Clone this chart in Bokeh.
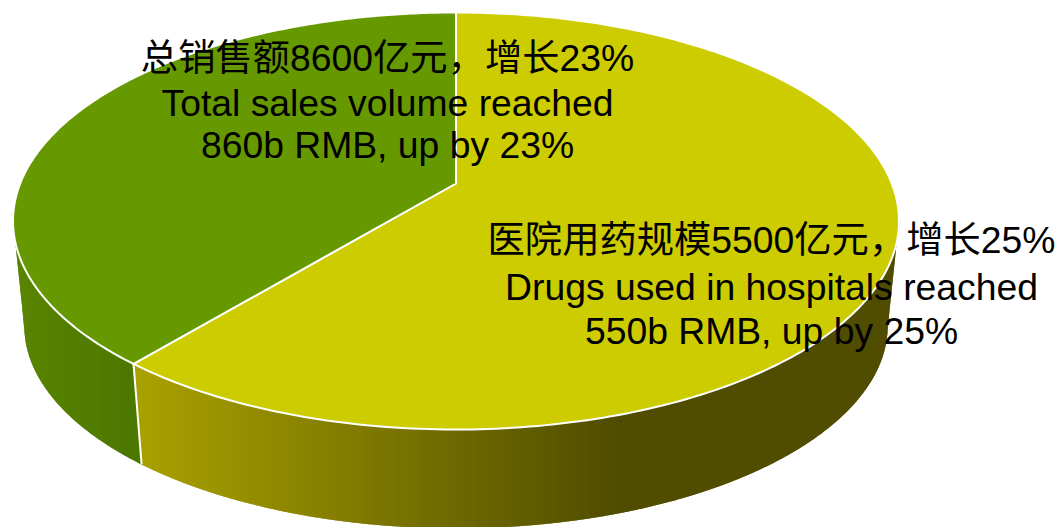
import math
from bokeh.plotting import figure
from bokeh.core.properties import value
from bokeh.embed import file_html
from bokeh.resources import INLINE

# slice shares, clockwise from 12 o'clock
categories = ["医院用药", "其他"]
shares = [61.0, 39.0]

labels_total = ["总销售额8600亿元，增长23%", "Total sales volume reached", "860b RMB, up by 23%"]
labels_hosp = ["医院用药规模5500亿元，增长25%", "Drugs used in hospitals reached", "550b RMB, up by 25%"]

W, H = 1060, 527
p = figure(width=W, height=H, x_range=(0, W), y_range=(H, 0),
           output_backend="svg", toolbar_location=None, min_border=0)
p.axis.visible = False
p.grid.visible = False
p.outline_line_color = None
p.background_fill_color = None
p.border_fill_color = None

# perspective view of a tilted disc
CX, AY = 455.5, 183.0
UP, DOWN, HALFW = 171.0, 246.0, 443.0
K = (DOWN - UP) / (DOWN + UP)
B = UP * (1 + K)
A = HALFW * math.sqrt(1 - K * K)
BOT_SCALE, BOT_AY = 0.975, 288.0
CY = AY + (DOWN - UP) / 2
RY = (DOWN + UP) / 2
BOT_CY = BOT_AY + BOT_SCALE * (CY - AY)


def top_pt(t):
    X, Y = math.sin(t), -math.cos(t)
    w = 1 - K * Y
    return CX + A * X / w, AY + B * Y / w


def bot_pt(t):
    x, y = top_pt(t)
    return CX + (x - CX) * BOT_SCALE, BOT_AY + (y - AY) * BOT_SCALE


def y_top(x):
    d = max(0.0, 1 - ((x - CX) / HALFW) ** 2)
    return CY + RY * math.sqrt(d)


def y_bot(x):
    rx = HALFW * BOT_SCALE
    dx = abs(x - CX)
    if dx <= rx:
        return BOT_CY + BOT_SCALE * RY * math.sqrt(1 - (dx / rx) ** 2)
    f = min(1.0, (dx - rx) / (HALFW - rx))
    return BOT_CY + (CY - BOT_CY) * f


def hexc(r, g, b):
    return "#%02x%02x%02x" % (int(round(r)), int(round(g)), int(round(b)))


def mix(x, x0, c0, x1, c1):
    f = min(1.0, max(0.0, (x - x0) / (x1 - x0)))
    return hexc(*[a + (b - a) * f for a, b in zip(c0, c1)])


def side_color(i, x):
    if i == 0:
        return mix(x, 132, (170, 162, 0), 620, (80, 76, 0))
    return mix(x, 13, (90, 133, 0), 132, (76, 120, 0))


total = sum(shares)
edges = [0.0]
for s in shares:
    edges.append(edges[-1] + s / total * 2 * math.pi)

# rim: overlapping columns painted left to right, so no seams show
tb = edges[1]
bx0, by0 = top_pt(tb)
bx1, by1 = bot_pt(tb)
xs, ys, cs = [], [], []
x = int(CX - HALFW)
xend = int(CX + HALFW) + 1
while x < xend:
    xa, xb = x, x + 2
    if xb <= bx0:
        xs.append([xa, xb, xb, xa])
        ys.append([y_top(xa), y_top(xb), y_bot(xb), y_bot(xa)])
        cs.append(side_color(1, xa + 0.5))
    elif xa >= bx1:
        xs.append([xa, xb, xb, xa])
        ys.append([y_top(xa), y_top(xb), y_bot(xb), y_bot(xa)])
        cs.append(side_color(0, xa + 0.5))
    else:
        # column crossed by the divider: right slice above it, left slice below it
        fa = (xa - bx0) / (bx1 - bx0)
        fb = (xb - bx0) / (bx1 - bx0)
        ma = by0 + (by1 - by0) * max(0.0, min(1.0, fa))
        mb = by0 + (by1 - by0) * max(0.0, min(1.0, fb))
        xs.append([xa, xb, xb, xa])
        ys.append([y_top(xa), y_top(xb), mb, ma])
        cs.append(side_color(0, xa + 0.5))
        xs.append([xa, xb, xb, xa])
        ys.append([ma, mb, y_bot(xb), y_bot(xa)])
        cs.append(side_color(1, xa + 0.5))
    x += 1
p.patches(xs, ys, fill_color=cs, fill_alpha=1.0, line_color=None)

# rim divider at the slice boundary
p.line([bx0, bx1], [by0, by1], line_color="white", line_width=2)

# top face
top_colors = ["#cccc00", "#669900"]
for i in range(len(shares)):
    n = 240
    pts = [top_pt(edges[i] + (edges[i + 1] - edges[i]) * j / n) for j in range(n + 1)]
    p.patch([CX] + [q[0] for q in pts], [AY] + [q[1] for q in pts],
            fill_color=top_colors[i], fill_alpha=1.0, line_color="#ffffff", line_width=2, line_join="round")

font = value("Liberation Sans, Noto Sans CJK SC")


def block(lines, cx, baselines):
    p.text([cx] * len(lines), baselines, text=lines, text_font=font, text_font_size="37.3px",
           text_color="#000000", text_align="center", text_baseline="alphabetic")


block(labels_total, 387, [57, 102, 144.5])
block(labels_hosp, 771, [239, 286, 330])

open("out.html", "w").write(file_html(p, INLINE))
